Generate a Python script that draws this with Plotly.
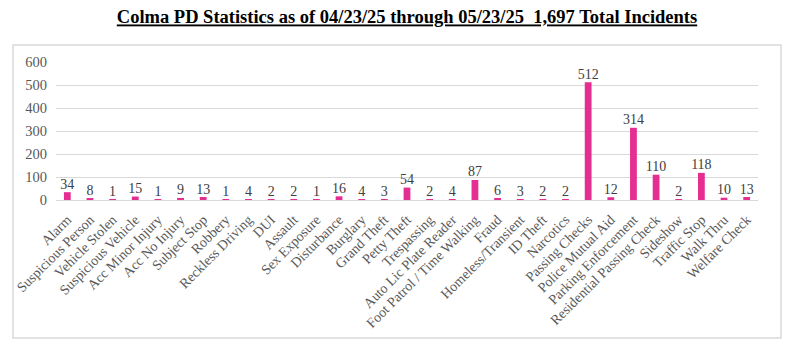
import plotly.graph_objects as go

categories = ["Alarm", "Suspicious Person", "Vehicle Stolen", "Suspicious Vehicle", "Acc Minor Injury",
              "Acc No Injury", "Subject Stop", "Robbery", "Reckless Driving", "DUI", "Assault",
              "Sex Exposure", "Disturbance", "Burglary", "Grand Theft", "Petty Theft", "Trespassing",
              "Auto Lic Plate Reader", "Foot Patrol / Time Walking", "Fraud", "Homeless/Transient",
              "ID Theft", "Narcotics", "Passing Checks", "Police Mutual Aid", "Parking Enforcement",
              "Residential Passing Check", "Sideshow", "Traffic Stop", "Walk Thru", "Welfare Check"]
values = [34, 8, 1, 15, 1, 9, 13, 1, 4, 2, 2, 1, 16, 4, 3, 54, 2, 4, 87, 6, 3, 2, 2, 512, 12, 314,
          110, 2, 118, 10, 13]
y_ticks = [0, 100, 200, 300, 400, 500, 600]

W, H = 791, 343
ml, mr, mt, mb = 56, 33, 62, 143
pw, ph = W - ml - mr, H - mt - mb

fig = go.Figure()
fig.add_trace(go.Bar(
    x=categories, y=values, width=0.3,
    marker=dict(color="#E52E91", line=dict(width=0)),
))
fig.add_trace(go.Scatter(
    x=categories, y=values, mode="text", text=[str(v) for v in values],
    textposition="top center", cliponaxis=False,
    textfont=dict(family="Liberation Serif", size=14, color="#404040"),
))

fig.update_layout(
    width=W, height=H, margin=dict(l=ml, r=mr, t=mt, b=mb),
    paper_bgcolor="white", plot_bgcolor="white", showlegend=False,
    title=dict(text="<b><u>Colma PD Statistics as of 04/23/25 through 05/23/25  1,697 Total Incidents</u></b>",
               x=0.5, xref="paper", y=1 - 17 / H, yanchor="middle",
               font=dict(family="Liberation Serif", size=18.5, color="black")),
    xaxis=dict(tickangle=-45, tickfont=dict(family="Liberation Serif", size=14, color="#595959"),
               range=[-0.5, len(categories) - 0.5], ticklabelstandoff=5,
               showline=True, linecolor="#D9D9D9", ticks="", showgrid=False),
    yaxis=dict(range=[0, 600], tickvals=y_ticks, showgrid=True, gridcolor="#D9D9D9",
               zeroline=False, tickfont=dict(family="Liberation Serif", size=14.5, color="#595959"),
               ticks="", ticklabelstandoff=8),
    shapes=[dict(type="rect", xref="paper", yref="paper",
                 x0=(13 - ml) / pw, x1=(781 - ml) / pw,
                 y0=(H - mb - 338) / ph, y1=(H - mb - 45) / ph,
                 line=dict(color="#D9D9D9", width=1.5), layer="below")],
)

fig.write_html("out.html")
